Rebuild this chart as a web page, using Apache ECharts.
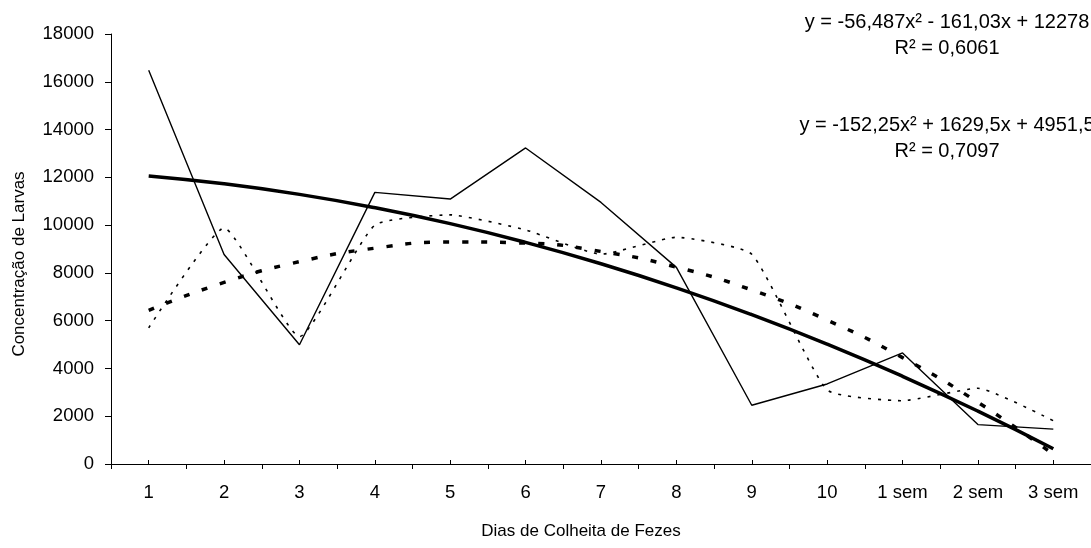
<!DOCTYPE html>
<html>
<head>
<meta charset="utf-8">
<script src="https://cdn.jsdelivr.net/npm/echarts@6/dist/echarts.min.js"></script>
<style>
html,body{margin:0;padding:0;background:#fff;}
#chart{width:1091px;height:548px;}
</style>
</head>
<body>
<div id="chart"></div>
<script>
var categories = ['1','2','3','4','5','6','7','8','9','10','1 sem','2 sem','3 sem'];
var yTicks = [0,2000,4000,6000,8000,10000,12000,14000,16000,18000];
var seriesSolid = [16480, 8770, 4990, 11370, 11090, 13230, 10950, 8230, 2460, 3350, 4650, 1650, 1460];
var seriesDotted = [5700, 9880, 5330, 10000, 10430, 9800, 8780, 9490, 8780, 3100, 2650, 3170, 1810];
var trendSolid = [12060, 11730, 11287, 10730, 10061, 9278, 8383, 7375, 6253, 5019, 3672, 2212, 638];
var trendDashed = [6429, 7602, 8470, 9034, 9293, 9248, 8898, 8244, 7285, 6022, 4454, 2582, 405];
var eqSolid = 'y = -56,487x² - 161,03x + 12278';
var r2Solid = 'R² = 0,6061';
var eqDashed = 'y = -152,25x² + 1629,5x + 4951,5';
var r2Dashed = 'R² = 0,7097';
var xTitle = 'Dias de Colheita de Fezes';
var yTitle = 'Concentração de Larvas';

var FONT = '"Liberation Sans", Arial, sans-serif';
var EQ_FONT = '20px ' + FONT;
var chart = echarts.init(document.getElementById('chart'));
var option = {
  animation: false,
  backgroundColor: '#fff',
  textStyle: {fontFamily: FONT, color: '#000'},
  grid: {left: 111, top: 34, width: 986, height: 430, containLabel: false},
  xAxis: [{
    type: 'category',
    data: categories,
    boundaryGap: true,
    axisLine: {lineStyle: {color: '#000', width: 1}},
    axisTick: {show: true, inside: false, length: 5, lineStyle: {color: '#000'}},
    axisLabel: {fontSize: 18.5, color: '#000', margin: 19, fontFamily: FONT, interval: 0},
    splitLine: {show: false},
    name: xTitle,
    nameLocation: 'middle',
    nameGap: 59,
    nameTextStyle: {fontSize: 17, color: '#000', fontFamily: FONT, padding: [0, 40, 0, 0]}
  }, {
    type: 'category',
    data: categories,
    position: 'bottom',
    boundaryGap: true,
    axisLine: {show: false},
    axisTick: {show: true, inside: true, alignWithLabel: true, length: 4, lineStyle: {color: '#000'}},
    axisLabel: {show: false},
    splitLine: {show: false}
  }],
  yAxis: {
    type: 'value',
    min: yTicks[0],
    max: yTicks[yTicks.length - 1],
    interval: 2000,
    axisLine: {show: true, lineStyle: {color: '#000', width: 1}},
    axisTick: {show: true, inside: false, length: 6, lineStyle: {color: '#000'}},
    axisLabel: {fontSize: 18.5, color: '#000', margin: 17, fontFamily: FONT, formatter: function (v) { return String(v); }},
    splitLine: {show: false},
    name: yTitle,
    nameLocation: 'middle',
    nameGap: 83,
    nameTextStyle: {fontSize: 17, color: '#000', fontFamily: FONT, padding: [0, 30, 0, 0]}
  },
  series: [
    {
      type: 'line', data: seriesSolid, xAxisIndex: 0, symbol: 'none',
      lineStyle: {color: '#000', width: 1.4, type: 'solid'}
    },
    {
      type: 'line', data: seriesDotted, xAxisIndex: 0, symbol: 'none', smooth: 0.15,
      lineStyle: {color: '#000', width: 1.6, type: [3, 7]}
    },
    {
      type: 'line', data: trendSolid, xAxisIndex: 0, symbol: 'none', smooth: 0.5,
      lineStyle: {color: '#000', width: 3.5, type: 'solid'}
    },
    {
      type: 'line', data: trendDashed, xAxisIndex: 0, symbol: 'none', smooth: 0.5,
      lineStyle: {color: '#000', width: 3.5, type: [6, 13]}
    }
  ],
  graphic: [
    {type: 'text', x: 947, y: 22, style: {text: eqSolid, fill: '#000', font: EQ_FONT, textAlign: 'center', textVerticalAlign: 'middle'}},
    {type: 'text', x: 947, y: 48, style: {text: r2Solid, fill: '#000', font: EQ_FONT, textAlign: 'center', textVerticalAlign: 'middle'}},
    {type: 'text', x: 947, y: 125, style: {text: eqDashed, fill: '#000', font: EQ_FONT, textAlign: 'center', textVerticalAlign: 'middle'}},
    {type: 'text', x: 947, y: 151, style: {text: r2Dashed, fill: '#000', font: EQ_FONT, textAlign: 'center', textVerticalAlign: 'middle'}}
  ]
};
chart.setOption(option);
</script>
</body>
</html>
